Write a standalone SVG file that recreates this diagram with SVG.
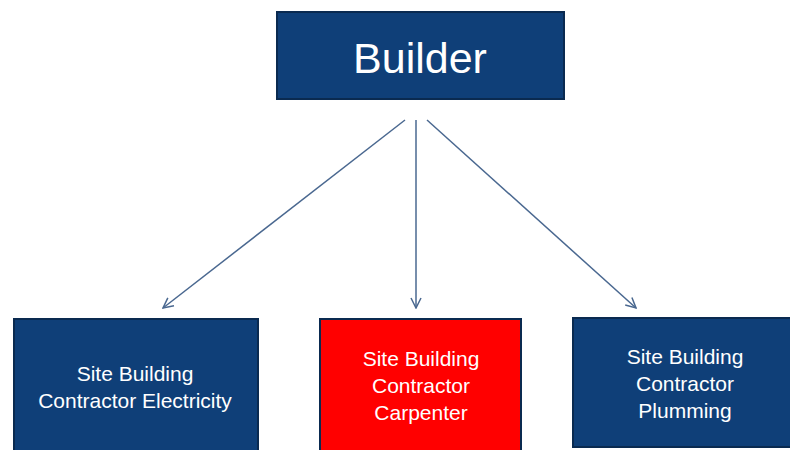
<svg xmlns="http://www.w3.org/2000/svg" width="790" height="450" viewBox="0 0 790 450">
<defs>
<style>
.box{fill:#0f3f78;stroke:#0a2a50;stroke-width:2}
.red{fill:#ff0000;stroke:#0a2a50;stroke-width:2}
.t{font-family:"Liberation Sans",Arial,sans-serif;fill:#ffffff;text-anchor:middle}
.s{font-size:21px}
.c{stroke:#4a6890;stroke-width:1.5;fill:none;marker-end:url(#ah)}
</style>
<marker id="ah" viewBox="0 0 12 12" refX="11" refY="6" markerWidth="12" markerHeight="12" markerUnits="userSpaceOnUse" orient="auto">
<path d="M1,1 L11,6 L1,11" fill="none" stroke="#4a6890" stroke-width="1.5"/>
</marker>
</defs>
<rect width="790" height="450" fill="#ffffff"/>
<g id="connectors">
<line class="c" x1="405" y1="120" x2="163" y2="308"/>
<line class="c" x1="416" y1="120" x2="416" y2="308"/>
<line class="c" x1="427" y1="120" x2="636" y2="308"/>
</g>
<g id="builder">
<rect class="box" x="277" y="12" width="287" height="87"/>
<text class="t" x="420" y="73" font-size="43">Builder</text>
</g>
<g id="electricity">
<rect class="box" x="14" y="319" width="244" height="140"/>
<text class="t s" x="135" y="381">Site Building</text>
<text class="t s" x="135" y="408">Contractor Electricity</text>
</g>
<g id="carpenter">
<rect class="red" x="320" y="319" width="201" height="140"/>
<text class="t s" x="421" y="366">Site Building</text>
<text class="t s" x="421" y="393">Contractor</text>
<text class="t s" x="421" y="420">Carpenter</text>
</g>
<g id="plumming">
<rect class="box" x="573" y="318" width="225" height="129"/>
<text class="t s" x="685" y="364">Site Building</text>
<text class="t s" x="685" y="391">Contractor</text>
<text class="t s" x="685" y="418">Plumming</text>
</g>
</svg>
